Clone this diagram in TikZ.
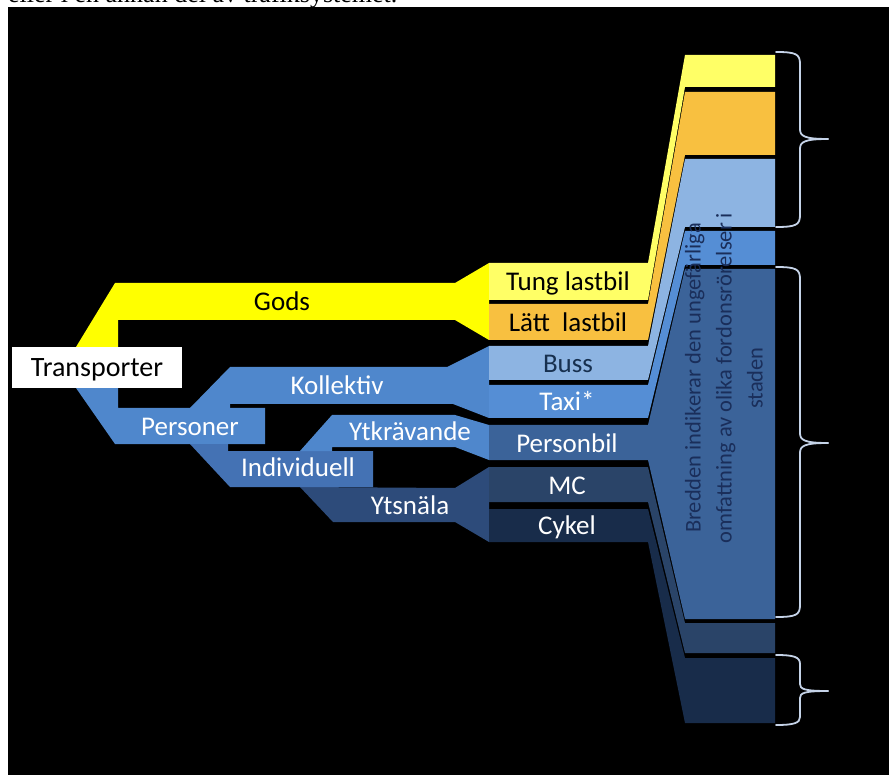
\documentclass[tikz,border=0pt]{standalone}
\usepackage{fontspec}
\setmainfont{Carlito}
\newfontfamily\topserif{Liberation Serif}
\definecolor{godsY}{HTML}{FFFF00}
\definecolor{tungY}{HTML}{FFFF66}
\definecolor{lattO}{HTML}{F8C040}
\definecolor{bussB}{HTML}{8DB4E2}
\definecolor{taxiB}{HTML}{558ED5}
\definecolor{persB}{HTML}{4F87CC}
\definecolor{indiB}{HTML}{4472B4}
\definecolor{pbilB}{HTML}{3B6399}
\definecolor{ytsnB}{HTML}{2D4B7A}
\definecolor{mcB}{HTML}{2A4468}
\definecolor{cykB}{HTML}{182C4A}
\definecolor{navyT}{HTML}{1A2E5A}
\definecolor{bussT}{HTML}{17304F}
\definecolor{braceC}{HTML}{C5D3E8}
\tikzset{
  lbl/.style={font=\fontsize{27}{30}\selectfont, inner sep=0pt, text height=17pt, text depth=0pt, anchor=center},
  wlbl/.style={lbl, text=white},
  bracestyle/.style={draw=braceC, line width=1.8pt, line cap=round, line join=round},
}
\newcommand{\flowpiece}[6]{%
  \fill[#1] (489,#2) -- (648,#2) -- (685,#4) -- (775,#4) -- (775,#5) -- (685,#5) -- (648,#3) -- (489,#3) -- cycle;}
\begin{document}
\begin{tikzpicture}[x=1pt,y=-1pt]
\useasboundingbox (0,0) rectangle (889,775);
\fill[white] (0,0) rectangle (889,775);
\node[font=\topserif\fontsize{26}{30}\selectfont, anchor=base west, inner sep=0pt] (toptext) at (8,3) {eller i en annan del av trafiksystemet.};
\fill[black] (8,7) rectangle (889,775);
% tree bands
\fill[godsY] (76,347) -- (115,283) -- (455,283) -- (489,263) -- (489,340) -- (455,320) -- (118,320) -- (118,347) -- cycle;
\fill[persB] (76,388) -- (118,388) -- (118,408) -- (265,408) -- (265,444) -- (115,444) -- cycle;
\fill[persB] (190,408) -- (230,367) -- (447,367) -- (489,346) -- (489,418) -- (453,404) -- (230,404) -- (230,408) -- cycle;
\fill[ytsnB] (300,487) -- (455,488) -- (489,467) -- (489,542) -- (455,522) -- (333,522) -- cycle;
\fill[indiB] (190,444) -- (228,444) -- (228,451) -- (373,451) -- (373,487) -- (230,487) -- cycle;
\fill[persB] (300,451) -- (332,415) -- (455,415) -- (489,425) -- (489,460) -- (455,447) -- (332,447) -- (332,451) -- cycle;
% flows to column
\flowpiece{tungY}{263}{300}{55}{87}{}
\flowpiece{lattO}{304}{340}{92}{155}{}
\flowpiece{bussB}{346}{380}{159}{227}{}
\flowpiece{taxiB}{385}{418}{231}{265}{}
\flowpiece{pbilB}{425}{460}{269}{619}{}
\flowpiece{mcB}{467}{502}{623}{653}{}
\flowpiece{cykB}{509}{542}{658}{723}{}
% Transporter box
\fill[white] (12,347) rectangle (182,388);
% labels
\node[lbl, font=\fontsize{28}{30}\selectfont] (transp) at (97,368) {Transporter};
\node[lbl] (gods) at (282,302) {Gods};
\node[wlbl] (koll) at (337,386) {Kollektiv};
\node[wlbl] (pers) at (190,427) {Personer};
\node[wlbl] (indiv) at (298,468) {Individuell};
\node[wlbl] (ytkr) at (410,432) {Ytkrävande};
\node[wlbl] (ytsn) at (410,506) {Ytsnäla};
\node[lbl] (tung) at (568,282) {Tung lastbil};
\node[lbl] (latt) at (568,323) {Lätt\ \ lastbil};
\node[lbl, text=bussT] (buss) at (568,364) {Buss};
\node[wlbl] (taxi) at (567,402) {Taxi*};
\node[wlbl] (pbil) at (567,444) {Personbil};
\node[wlbl] (mc) at (567,486) {MC};
\node[wlbl] (cykel) at (567,526) {Cykel};
% rotated explanation
\node[rotate=90, align=center, text=navyT, inner sep=0pt, font=\fontsize{22.5}{31}\selectfont] (bredd) at (724,378)
  {Bredden indikerar den ungefärliga\\ omfattning av olika fordonsrörelser i\\ staden};
% braces
\draw[bracestyle] (776,52) .. controls (796,52) and (800,54) .. (800,64) -- (800,129) .. controls (800,136) and (804,139) .. (828,139);
\draw[bracestyle] (828,139) .. controls (804,139) and (800,142) .. (800,149) -- (800,215) .. controls (800,225) and (796,227) .. (776,227);
\draw[bracestyle] (776,267) .. controls (796,267) and (800,269) .. (800,279) -- (800,433) .. controls (800,440) and (804,443) .. (828,443);
\draw[bracestyle] (828,443) .. controls (804,443) and (800,446) .. (800,453) -- (800,605) .. controls (800,615) and (796,617) .. (776,617);
\draw[bracestyle] (776,655) .. controls (794,655) and (800,657) .. (800,664) -- (800,684) .. controls (800,689) and (804,691) .. (828,691);
\draw[bracestyle] (828,691) .. controls (804,691) and (800,693) .. (800,698) -- (800,717) .. controls (800,723) and (794,725) .. (776,725);
\end{tikzpicture}
\end{document}
